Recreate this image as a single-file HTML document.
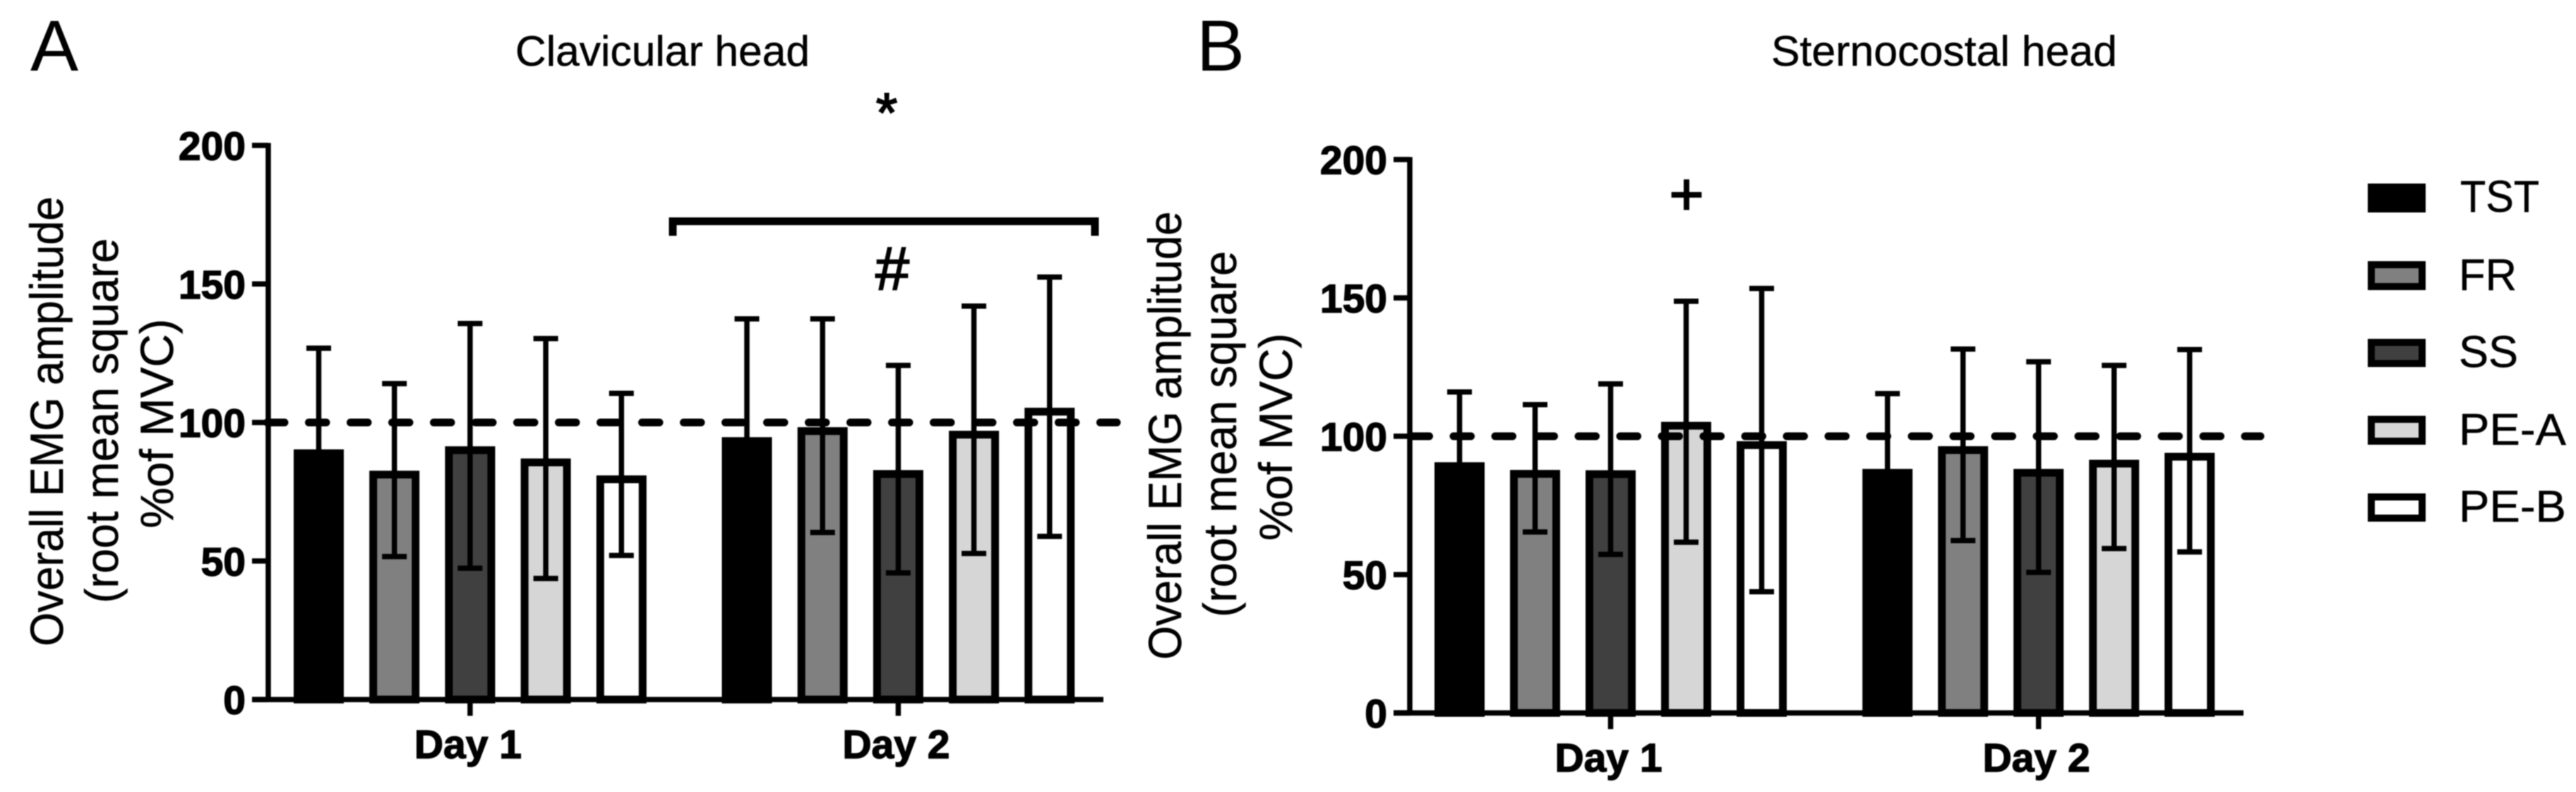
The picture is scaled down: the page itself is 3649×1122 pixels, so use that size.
<!DOCTYPE html>
<html lang="en">
<head>
<meta charset="utf-8">
<title>Overall EMG amplitude – clavicular and sternocostal head</title>
<style>
  html, body { margin: 0; padding: 0; background: #fff; }
  #figure { display: block; width: 3649px; height: 1122px; filter: blur(0.9px); }
  text { font-family: "Liberation Sans", Arial, sans-serif; fill: #000; }
  .tick-label, .day-label { font-weight: 700; font-size: 57px; stroke: #000; stroke-width: 1.4px; }
  .axis-title { font-size: 66px; stroke: #000; stroke-width: 0.5px; }
  .chart-title { font-size: 60px; stroke: #000; stroke-width: 0.5px; }
  .panel-letter { font-size: 102px; }
  .legend-label { font-size: 63px; stroke: #000; stroke-width: 0.5px; }
  .marker { stroke: #000; stroke-width: 2px; }
</style>
</head>
<body>
<svg id="figure" xmlns="http://www.w3.org/2000/svg" width="3649" height="1122" viewBox="0 0 3649 1122">
  <rect x="0" y="0" width="3649" height="1122" fill="#ffffff"/>

  <g id="panel-a"></g>
  <g id="panel-b"></g>

  <text class="panel-letter" x="43" y="100">A</text>
  <text class="panel-letter" x="1695" y="100">B</text>
  <text class="chart-title" x="730" y="93" textLength="417" lengthAdjust="spacingAndGlyphs">Clavicular head</text>
  <text class="chart-title" x="2509" y="93" textLength="490" lengthAdjust="spacingAndGlyphs">Sternocostal head</text>

  <g>
    <text class="axis-title" text-anchor="middle" textLength="637" lengthAdjust="spacingAndGlyphs" transform="translate(89 597) rotate(-90)">Overall EMG amplitude</text>
    <text class="axis-title" text-anchor="middle" textLength="517" lengthAdjust="spacingAndGlyphs" transform="translate(167 596) rotate(-90)">(root mean square</text>
    <text class="axis-title" text-anchor="middle" textLength="297" lengthAdjust="spacingAndGlyphs" transform="translate(245 600) rotate(-90)">%of MVC)</text>
  </g>
  <g>
    <text class="axis-title" text-anchor="middle" textLength="635" lengthAdjust="spacingAndGlyphs" transform="translate(1673 617) rotate(-90)">Overall EMG amplitude</text>
    <text class="axis-title" text-anchor="middle" textLength="519" lengthAdjust="spacingAndGlyphs" transform="translate(1751 615) rotate(-90)">(root mean square</text>
    <text class="axis-title" text-anchor="middle" textLength="294" lengthAdjust="spacingAndGlyphs" transform="translate(1830 619) rotate(-90)">%of MVC)</text>
  </g>

  <g>
    <path d="M953 334 V313.5 H1551 V334" fill="none" stroke="#000" stroke-width="11"/>
    <text class="marker" x="1256" y="186" text-anchor="middle" font-size="78">*</text>
    <text class="marker" x="1264" y="410" text-anchor="middle" font-size="86">#</text>
  </g>
  <text class="marker" x="2389" y="304" text-anchor="middle" font-size="84">+</text>

  <g>
    <g>
      <rect x="3359" y="265" width="72" height="31" fill="#000000" stroke="#000" stroke-width="10"/>
      <text class="legend-label" x="3485" y="300" textLength="112" lengthAdjust="spacingAndGlyphs">TST</text>
    </g>
    <g>
      <rect x="3359" y="375" width="72" height="31" fill="#808080" stroke="#000" stroke-width="10"/>
      <text class="legend-label" x="3483" y="411" textLength="82" lengthAdjust="spacingAndGlyphs">FR</text>
    </g>
    <g>
      <rect x="3359" y="485" width="72" height="30" fill="#404040" stroke="#000" stroke-width="10"/>
      <text class="legend-label" x="3483" y="520" textLength="84" lengthAdjust="spacingAndGlyphs">SS</text>
    </g>
    <g>
      <rect x="3359" y="594" width="72" height="31" fill="#d6d6d6" stroke="#000" stroke-width="10"/>
      <text class="legend-label" x="3483" y="630" textLength="152" lengthAdjust="spacingAndGlyphs">PE-A</text>
    </g>
    <g>
      <rect x="3359" y="704" width="72" height="30" fill="#ffffff" stroke="#000" stroke-width="10"/>
      <text class="legend-label" x="3483" y="739" textLength="152" lengthAdjust="spacingAndGlyphs">PE-B</text>
    </g>
  </g>
</svg>

<script>
// ---- Data ----
const days = ['Day 1', 'Day 2'];
const exercises = ['TST', 'FR', 'SS', 'PE-A', 'PE-B'];
const yTicks = [0, 50, 100, 150, 200];
const referenceLevel = 100;

const clavicularMeans = [[90.3, 82.6, 91.4, 87, 80.9], [94.7, 98.3, 82.8, 97, 105.3]];
const clavicularUpper = [[126.8, 114, 135.7, 130.3, 110.5], [137.4, 137.4, 120.6, 142, 152.5]];
const clavicularLower = [[53.8, 51.6, 47.4, 43.7, 52], [52, 60.3, 45.7, 52.7, 58.9]];

const sternocostalMeans = [[90.6, 87.8, 87.7, 105.2, 98.2], [88.2, 96.4, 88.2, 91.5, 94]];
const sternocostalUpper = [[116, 111.4, 118.9, 148.8, 153.4], [115.4, 131.5, 126.9, 125.6, 131.3]];
const sternocostalLower = [[65, 65.4, 57.3, 61.7, 43.8], [61, 62.3, 50.8, 59.4, 58.2]];

const exerciseFills = ['#000000', '#808080', '#404040', '#d6d6d6', '#ffffff'];

// ---- Drawing ----
const SVG_NS = 'http://www.w3.org/2000/svg';

function make(parent, tag, attrs, content) {
  const el = document.createElementNS(SVG_NS, tag);
  for (const k in attrs) el.setAttribute(k, attrs[k]);
  if (content !== undefined) el.textContent = content;
  parent.appendChild(el);
  return el;
}

function slug(s) {
  return s.toLowerCase().replace(/\s+/g, '-');
}

function drawPanel(cfg) {
  const root = document.getElementById(cfg.id);
  const yScale = v => cfg.y0 - v * cfg.pxPerUnit;
  const xScale = (day, ex) => cfg.groupStart[day] + ex * cfg.step;
  const groupCenter = day => xScale(day, (exercises.length - 1) / 2);
  const barW = 71, border = 11, capW = 35, errW = 7.5;

  // bars
  days.forEach((day, d) => {
    exercises.forEach((ex, i) => {
      const top = yScale(cfg.means[d][i]);
      const cx = xScale(d, i);
      const bar = make(root, 'rect', {
        x: cx - barW / 2 + border / 2,
        y: top + border / 2,
        width: barW - border,
        height: cfg.y0 - top - border / 2,
        fill: exerciseFills[i],
        stroke: '#000',
        'stroke-width': border
      });
      
      
    });
  });

  // error bars
  days.forEach((day, d) => {
    exercises.forEach((ex, i) => {
      const cx = xScale(d, i);
      const yHi = yScale(cfg.upper[d][i]);
      const yLo = yScale(cfg.lower[d][i]);
      const err = make(root, 'path', {
        d: 'M' + cx + ' ' + yHi + 'V' + yLo +
           'M' + (cx - capW / 2) + ' ' + yHi + 'H' + (cx + capW / 2) +
           'M' + (cx - capW / 2) + ' ' + yLo + 'H' + (cx + capW / 2),
        fill: 'none',
        stroke: '#000',
        'stroke-width': errW
      });
      
      
    });
  });

  // axes
  const yAxis = make(root, 'line', {
    x1: cfg.axisX, x2: cfg.axisX,
    y1: yScale(yTicks[yTicks.length - 1]) - 3.5, y2: cfg.y0 + 3.5,
    stroke: '#000', 'stroke-width': 7.5
  });
  
  

  const xAxis = make(root, 'line', {
    x1: cfg.axisX - 23, x2: cfg.axisEnd,
    y1: cfg.y0, y2: cfg.y0,
    stroke: '#000', 'stroke-width': 7.5
  });
  
  

  yTicks.forEach(t => {
    const y = yScale(t);
    const mark = make(root, 'line', {
      x1: cfg.axisX - 23, x2: cfg.axisX, y1: y, y2: y,
      stroke: '#000', 'stroke-width': 7.5
    });
    
    
    const label = make(root, 'text', {
      class: 'tick-label', x: cfg.axisX - 32, y: y + 20.5, 'text-anchor': 'end'
    }, String(t));
    
    
  });

  days.forEach((day, d) => {
    const cx = groupCenter(d);
    const mark = make(root, 'line', {
      x1: cx, x2: cx, y1: cfg.y0, y2: cfg.y0 + 23,
      stroke: '#000', 'stroke-width': 7.5
    });
    
    
    const label = make(root, 'text', {
      class: 'day-label', x: cx - 3, y: cfg.y0 + 83, 'text-anchor': 'middle'
    }, day);
    
    
  });

  // dashed 100 % reference line
  const ref = make(root, 'line', {
    x1: cfg.dashStart, x2: cfg.dashEnd,
    y1: yScale(referenceLevel), y2: yScale(referenceLevel),
    stroke: '#000', 'stroke-width': 11,
    'stroke-linecap': 'round', 'stroke-dasharray': '24.5 34.5'
  });
  
  
}

drawPanel({
  id: 'panel-a', key: 'a',
  means: clavicularMeans, upper: clavicularUpper, lower: clavicularLower,
  y0: 991, pxPerUnit: 3.925, axisX: 380, axisEnd: 1563,
  groupStart: [451.5, 1058], step: 107.2,
  dashStart: 378.5, dashEnd: 1582
});

drawPanel({
  id: 'panel-b', key: 'b',
  means: sternocostalMeans, upper: sternocostalUpper, lower: sternocostalLower,
  y0: 1010, pxPerUnit: 3.92, axisX: 1997, axisEnd: 3178,
  groupStart: [2067.5, 2673.7], step: 107,
  dashStart: 2000, dashEnd: 3202
});
</script>
</body>
</html>
